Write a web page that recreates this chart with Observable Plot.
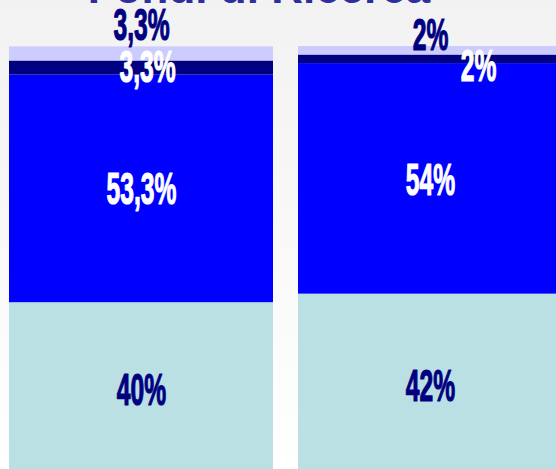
<!DOCTYPE html>
<html>
<head>
<meta charset="utf-8">
<script src="https://cdn.jsdelivr.net/npm/d3@7"></script>
<script src="https://cdn.jsdelivr.net/npm/@observablehq/plot@0.6"></script>
<style>
  html, body { margin: 0; padding: 0; width: 556px; height: 469px; overflow: hidden; }
  body { background: linear-gradient(to bottom, #f2f2f2 0%, #ffffff 100%); position: relative; }
  #title { position: absolute; left: 0; top: -34px; width: 518px; text-align: center;
    font-family: "Liberation Sans", Arial, sans-serif; font-weight: bold; font-size: 44px;
    line-height: 44px; color: #2e2e9e; margin: 0; white-space: nowrap; }
  #chart { position: absolute; left: 0; top: 0; }
</style>
</head>
<body>
<div id="title">Fondi di Ricerca</div>
<div id="chart"></div>
<script>
// Data (bottom segment first)
const bars = ["Gruppo 1", "Gruppo 2"];
const series = ["Serie A", "Serie B", "Serie C", "Serie D"];
const valuesGruppo1 = [40, 53.3, 3.3, 3.3];
const valuesGruppo2 = [42, 54, 2, 2];
const colors = ["#bae0e3", "#0000ff", "#000080", "#ccccff"];
const labelColors = ["#000080", "#ffffff", "#ffffff", "#000080"];

const data = [];
[valuesGruppo1, valuesGruppo2].forEach((vals, i) => {
  vals.forEach((v, j) => data.push({bar: bars[i], series: series[j], value: v}));
});
const fmt = v => v.toLocaleString("it-IT") + "%";

const font = {fontFamily: "'Liberation Sans Narrow', 'Liberation Sans', Arial, sans-serif", fontWeight: "bold", fontSize: 44};

const stackOpts = {x: "bar", y: "value", z: "series"};
const sel = (b, s) => d => d.bar === bars[b] && d.series === series[s];

const textMark = (b, s, extra, stack = Plot.stackY) =>
  Plot.text(data, Plot.filter(sel(b, s), stack({...stackOpts, text: d => fmt(d.value),
    fill: labelColors[s], stroke: labelColors[s], strokeWidth: 1.2,
    ...font, lineAnchor: "middle", className: "lbl", ...extra})));

const plot = Plot.plot({
  width: 563,
  height: 473,
  marginLeft: 8,
  marginRight: 0,
  marginTop: 46,
  marginBottom: 0,
  style: "max-width:none;background:transparent;overflow:visible;",
  x: {domain: bars, paddingInner: 0.0862, paddingOuter: 0, axis: null},
  y: {domain: [0, 100], axis: null},
  color: {domain: series, range: colors},
  marks: [
    Plot.barY(data, Plot.stackY({...stackOpts, fill: "series", inset: 0})),
    // bottom segments
    textMark(0, 0, {dy: 3}),
    textMark(1, 0, {dy: 3}),
    // middle segments
    textMark(0, 1, {dy: 1}),
    textMark(1, 1, {dy: 2}),
    // navy segments
    textMark(0, 2, {dx: 6}),
    textMark(1, 2, {dx: 48, dy: 8}),
    // top (lavender) segments, labels above bar
    textMark(0, 3, {dy: -21}, Plot.stackY2),
    textMark(1, 3, {dy: -11}, Plot.stackY2)
  ]
});
document.getElementById("chart").appendChild(plot);

// condense label glyphs horizontally
d3.select(plot).selectAll("g.lbl text, .lbl text").each(function() {
  const t = d3.select(this);
  const tr = t.attr("transform");
  if (tr && tr.includes("translate")) {
    t.attr("transform", tr + " scale(0.56,1)");
  } else {
    const x = +t.attr("x") || 0, y = +t.attr("y") || 0;
    t.attr("x", null).attr("y", null).attr("transform", `translate(${x},${y}) scale(0.56,1)`);
  }
});
</script>
</body>
</html>
